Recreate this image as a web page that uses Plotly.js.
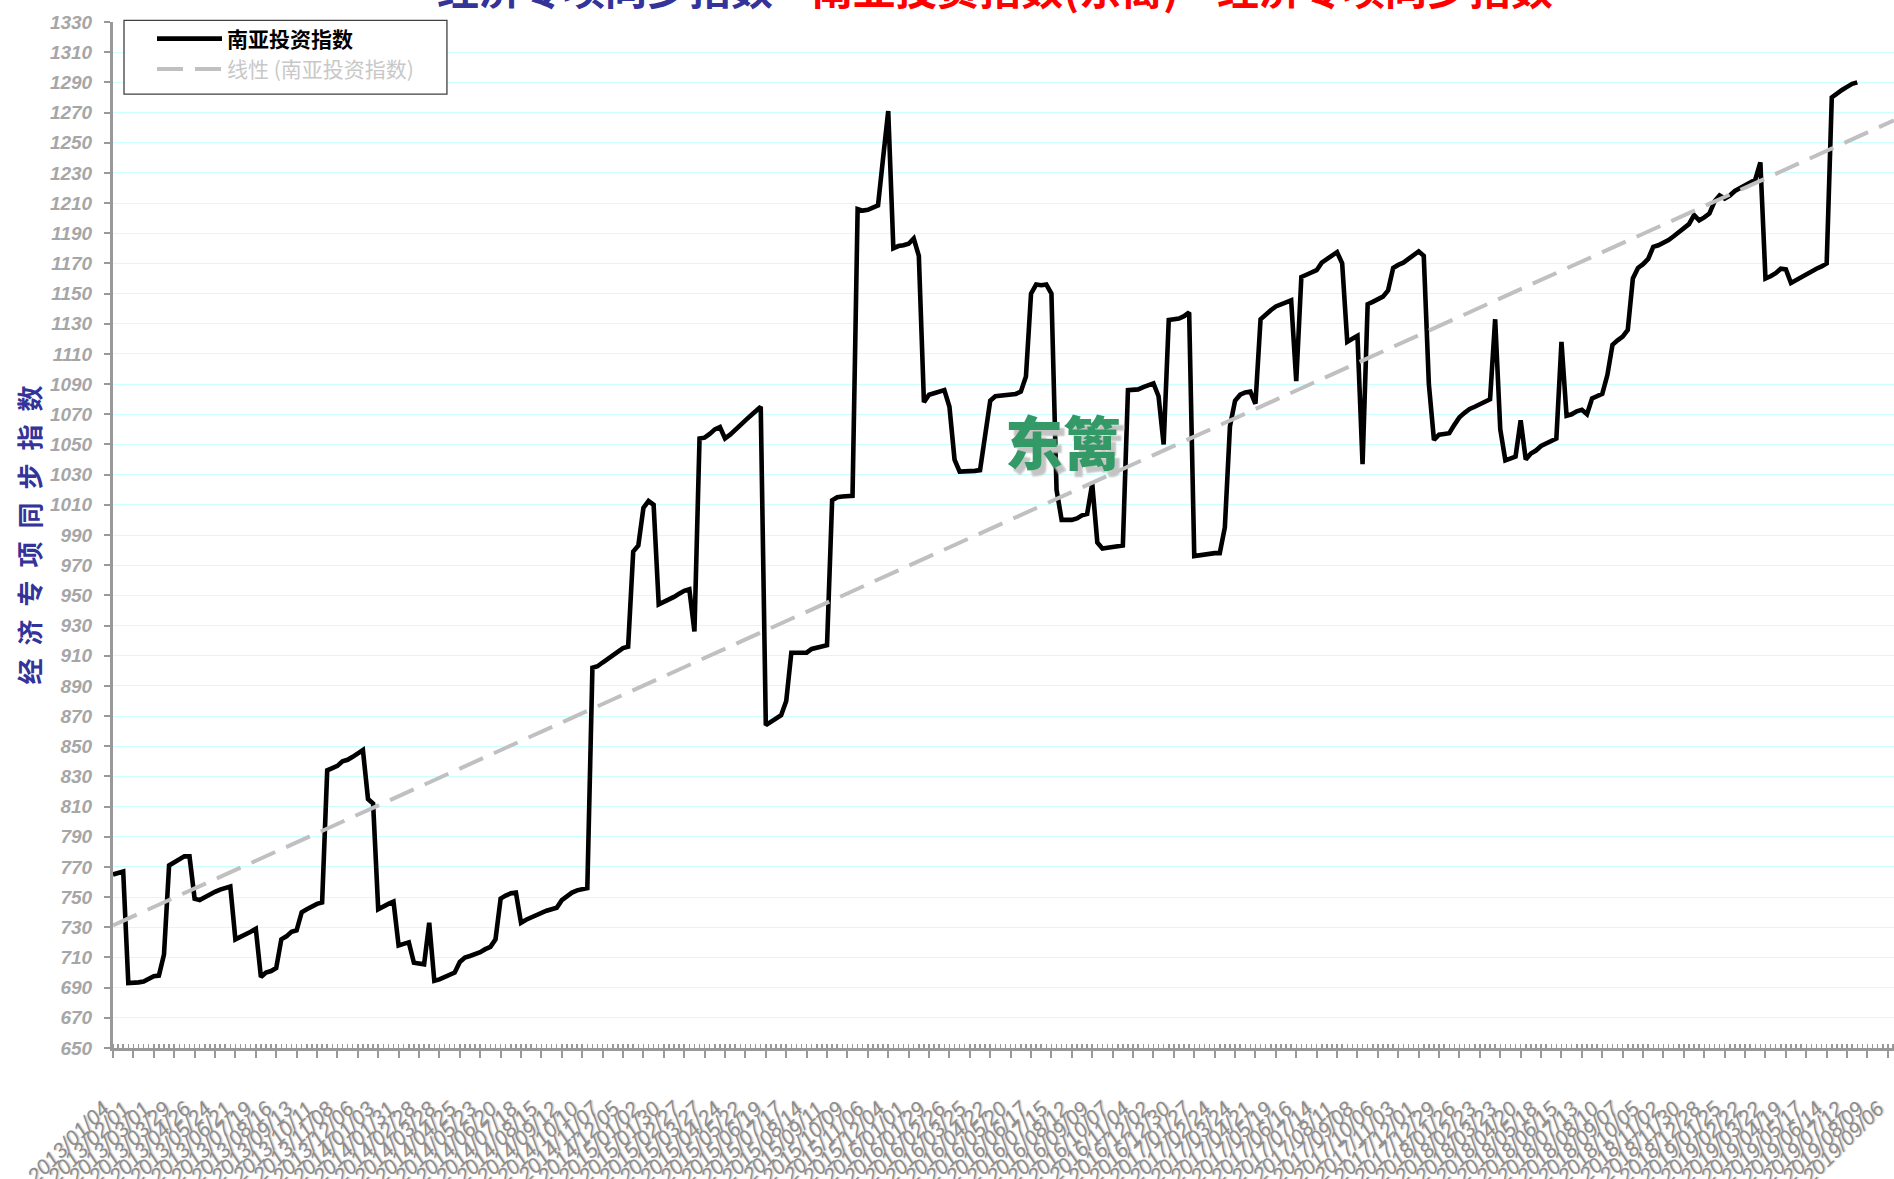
<!DOCTYPE html>
<html><head><meta charset="utf-8">
<script src="https://cdn.plot.ly/plotly-3.0.1.min.js"></script>
<style>html,body{margin:0;padding:0;background:#fff;overflow:hidden;} #chart{width:1894px;height:1179px;}</style>
</head><body><div id="chart"></div>
<script>
// ---- chart text ----
const seriesName = '南亚投资指数';
const trendName = '线性 (南亚投资指数)';
const yTitle = '经济专项同步指数';
const watermark = '东篱';
const titleBlue = '经济专项同步指数';
const titleRed = '—南亚投资指数(东篱)—经济专项同步指数';

// ---- x tick labels (every 4th weekly point) ----
const tickLabels = [
 '2013/01/04','2013/02/01','2013/03/01','2013/03/29','2013/04/26','2013/05/24','2013/06/21','2013/07/19','2013/08/16','2013/09/13','2013/10/11','2013/11/08','2013/12/06',
 '2014/01/03','2014/01/31','2014/02/28','2014/03/28','2014/04/25','2014/05/23','2014/06/20','2014/07/18','2014/08/15','2014/09/12','2014/10/10','2014/11/07','2014/12/05',
 '2015/01/02','2015/01/30','2015/02/27','2015/03/27','2015/04/24','2015/05/22','2015/06/19','2015/07/17','2015/08/14','2015/09/11','2015/10/09','2015/11/06','2015/12/04',
 '2016/01/01','2016/01/29','2016/02/26','2016/03/25','2016/04/22','2016/05/20','2016/06/17','2016/07/15','2016/08/12','2016/09/09','2016/10/07','2016/11/04','2016/12/02','2016/12/30',
 '2017/01/27','2017/02/24','2017/03/24','2017/04/21','2017/05/19','2017/06/16','2017/07/14','2017/08/11','2017/09/08','2017/10/06','2017/11/03','2017/12/01','2017/12/29',
 '2018/01/26','2018/02/23','2018/03/23','2018/04/20','2018/05/18','2018/06/15','2018/07/13','2018/08/10','2018/09/07','2018/10/05','2018/11/02','2018/11/30','2018/12/28',
 '2019/01/25','2019/02/22','2019/03/22','2019/04/19','2019/05/17','2019/06/14','2019/07/12','2019/08/09','2019/09/06'
];

// ---- weekly index values ----
const indexValues = [
 765,766,767,693,693,693.5,694,696,697.5,698,
 712,771,773,775,777,777,749,748,750,752,
 753.5,755,756,757,722,723.5,725,727,729,697,
 700,701,703,722,724,727,728,740,742,744,
 745.5,746.5,834,835.5,837,840,841,843,845,847.5,
 815,812,742,744,745.5,747,718,719,720,706.5,
 706,705.5,733,694.5,695.5,697,698.5,700,707,710,
 711,712,713.5,715.5,717,722,749,751,752.5,753,
 733,735,736.5,738,740,741,742,743,748,751,
 753,754.5,755,756,902,903,905.5,908,910.5,913,
 915,916,979,983,1008,1012.5,1010,944,945.5,947,
 949,951,953,954,926,1054,1054.5,1057,1060,1061.5,
 1054,1056.5,1060,1063,1066,1069,1072,1075,864,866,
 868,870.5,880,912,912,912,912,914.5,915.5,916.5,
 917,1013,1015,1015.5,1015.5,1016,1206,1205,1205.5,1207,
 1208.5,1240,1271,1180,1181.5,1182,1183,1186.5,1175,1078,
 1083,1084,1085,1086,1075,1040,1032,1032,1032.5,1032.5,
 1033,1058,1079,1082,1082.5,1083,1083,1083.5,1085,1095,
 1150,1156,1155.5,1156,1150,1020,1000,1000,1000,1001,
 1003,1004,1024,985,981,981.5,982,982.5,983,1086,
 1086,1086.5,1088,1089,1090.5,1082,1050,1132.5,1133,1133.5,
 1135,1137.5,976,976.5,977,978,978,978,995,1062,
 1079,1083,1084.5,1085,1077,1133,1136.5,1139,1141.5,1143,
 1144.5,1145.5,1092,1161,1162.5,1164,1165.5,1170.5,1173,1175.5,
 1177.5,1170,1118,1120,1122,1037,1143,1144.5,1146,1148,
 1152,1167,1169,1170.5,1173,1175.5,1178,1175,1090,1053,
 1056.5,1057,1057.5,1063,1068,1071,1073.5,1075,1076.5,1078,
 1080,1133,1060,1039.5,1040.5,1042,1066,1040,1044,1046,
 1049,1050.5,1052.5,1054,1118,1069,1070,1072,1073,1070,
 1080.5,1082,1083.5,1096,1116,1119,1121.5,1126,1160,1167,
 1169.5,1173,1181,1182,1183.5,1185.5,1188,1191,1194,1196,
 1202,1198.5,1200.5,1203,1211,1215,1213,1215,1218,1220,
 1222,1223.5,1225.5,1237,1160,1161.5,1163.5,1166.5,1166,1157,
 1159,1161,1163,1164.5,1166.5,1168,1170,1280,1283,1285,
 1287,1289,1290
];

const yMin = 650, yMax = 1330, yStep = 20;
const xMax = 349.2;          // axis runs a little past the last label
const labelEvery = 4;

// ---- linear trendline (least squares over the series) ----
const n = indexValues.length;
let sx = 0, sy = 0, sxx = 0, sxy = 0;
indexValues.forEach((v, i) => { sx += i; sy += v; sxx += i * i; sxy += i * v; });
const slope = (n * sxy - sx * sy) / (n * sxx - sx * sx);
const intercept = (sy - slope * sx) / n;
const trendX = [0, xMax];
const trendY = trendX.map(x => intercept + slope * x);

const tickVals = tickLabels.map((_, k) => k * labelEvery);

const axisGray = '#999999';
const numFont = {family: '"Liberation Sans Narrow", "Liberation Sans", Arial, sans-serif', size: 19, color: '#a6a6a6', style: 'italic', weight: 700};

const traces = [
  {type: 'scatter', mode: 'lines', y: indexValues, x: indexValues.map((_, i) => i),
   name: '<b>' + seriesName + '</b>', legendgroup: 'a',
   line: {color: '#000000', width: 4.6}, hoverinfo: 'skip'},
  {type: 'scatter', mode: 'lines', x: trendX, y: trendY,
   name: '<span style="color:#c8c8c8">' + trendName + '</span>', legendgroup: 'b',
   line: {color: '#c0c0c0', width: 4, dash: '26px,12px'}, hoverinfo: 'skip'}
];

const layout = {
  width: 1894, height: 1179,
  margin: {l: 113, r: 0, t: 22, b: 131, pad: 0},
  paper_bgcolor: '#ffffff', plot_bgcolor: '#ffffff',
  showlegend: true,
  legend: {x: 0.0219, y: 1.0034, xanchor: 'left', yanchor: 'top',
    bgcolor: 'rgba(0,0,0,0)', borderwidth: 0,
    font: {family: '"Noto Sans CJK SC", sans-serif', size: 21, color: '#000000'},
    itemwidth: 65, tracegroupgap: 27, traceorder: 'normal'},
  shapes: [
    {type: 'rect', xref: 'paper', yref: 'paper', x0: 0.00618, x1: 0.1875, y0: 0.9298, y1: 1.0015,
     line: {color: '#404040', width: 1.3}, fillcolor: '#ffffff', layer: 'above'}
  ],
  xaxis: {
    range: [0, xMax], tickmode: 'array', tickvals: tickVals, ticktext: tickLabels,
    tickangle: -45, ticks: 'outside', ticklen: 7, tickwidth: 2, tickcolor: axisGray,
    showline: true, linecolor: axisGray, linewidth: 3, mirror: false,
    showgrid: false, zeroline: false, ticklabelstandoff: 30,
    ticklabelshift: -10, ticklabeloverflow: 'allow',
    tickfont: {family: '"Liberation Sans", sans-serif', size: 21, color: '#8c8c8c', style: 'italic', shadow: '1px 1px 1px #d0d0d0'},
    minor: {tickmode: 'linear', tick0: 0, dtick: 1, ticks: 'inside', ticklen: 4, tickwidth: 1.5, tickcolor: axisGray, showgrid: false}
  },
  yaxis: {
    range: [yMin, yMax], tickmode: 'linear', tick0: yMin, dtick: yStep,
    ticks: 'outside', ticklen: 6, tickwidth: 2, tickcolor: axisGray,
    showline: true, linecolor: axisGray, linewidth: 3,
    showgrid: true, gridcolor: '#ccffff', gridwidth: 1, zeroline: false,
    ticklabelstandoff: 8, tickfont: numFont,
    title: {text: yTitle.split('').join('\u2002'), standoff: 2,
      font: {family: '"Noto Sans CJK SC", sans-serif', size: 26, color: '#333399', weight: 700}}
  },
  annotations: [
    {xref: 'paper', yref: 'paper', x: 0.5334, y: 0.5925, xanchor: 'center', yanchor: 'middle',
     text: watermark, showarrow: false,
     font: {family: '"Noto Sans CJK SC", sans-serif', size: 58, color: '#339966', weight: 900, shadow: '5px 6px 2px #c4c4c4'}},
    {xref: 'paper', yref: 'paper', x: 0.181, y: 1.003, xanchor: 'left', yanchor: 'bottom',
     text: '<span style="color:#333399">' + titleBlue + '</span>' + '<span style="color:#ff0000">' + titleRed + '</span>',
     showarrow: false, font: {family: '"Noto Sans CJK SC", sans-serif', size: 42, weight: 700}}
  ]
};

Plotly.newPlot('chart', traces, layout, {displayModeBar: false, staticPlot: true});
</script>
</body></html>
